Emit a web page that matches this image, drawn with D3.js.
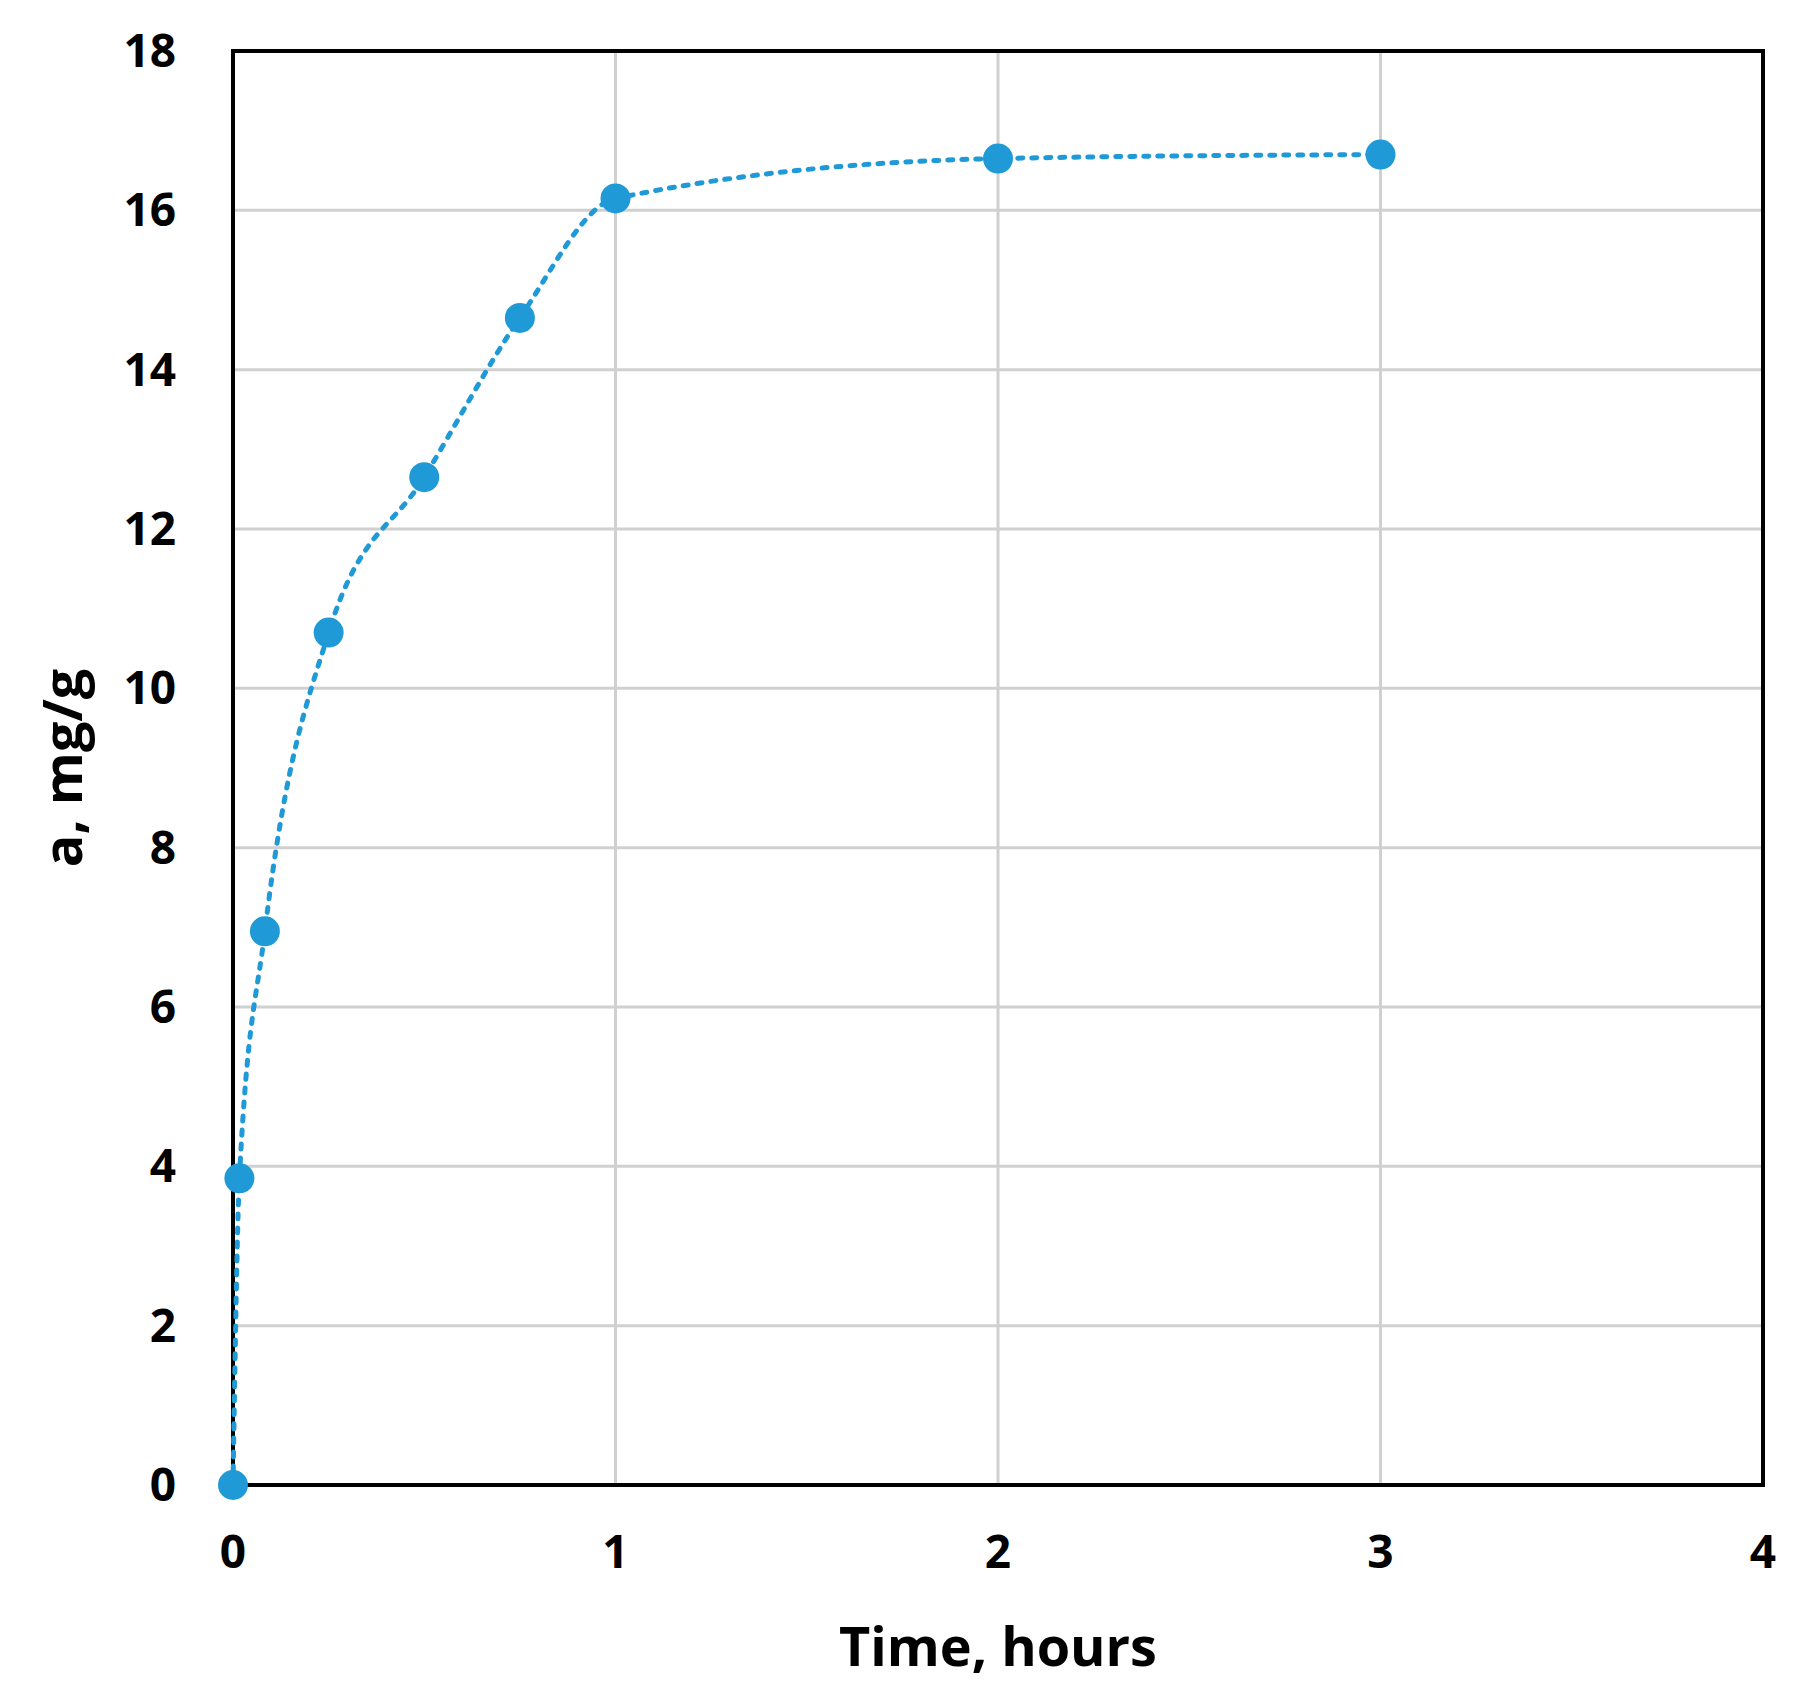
<!DOCTYPE html><html><head><meta charset="utf-8"><script src="https://cdn.jsdelivr.net/npm/d3@7"></script>
<style>body{margin:0;background:#fff}</style></head><body><svg id="c" width="1797" height="1691"></svg>
<script>
const times=[0,0.0167,0.0833,0.25,0.5,0.75,1,2,3];
const values=[0,3.85,6.95,10.7,12.65,14.65,16.15,16.65,16.7];
const xTicks=[0,1,2,3,4];
const yTicks=[0,2,4,6,8,10,12,14,16,18];
const svg=d3.select("#c");
const L=233,R=1763,T=51,B=1485;
const x=d3.scaleLinear().domain([0,4]).range([L,R]);
const y=d3.scaleLinear().domain([0,18]).range([B,T]);
const font="'Open Sans', 'DejaVu Sans', sans-serif";
const g=svg.append("g");
g.selectAll(".gx").data(xTicks).join("line").attr("x1",d=>x(d)).attr("x2",d=>x(d)).attr("y1",T).attr("y2",B).attr("stroke","#d0d0d0").attr("stroke-width",3);
g.selectAll(".gy").data(yTicks).join("line").attr("y1",d=>y(d)).attr("y2",d=>y(d)).attr("x1",L).attr("x2",R).attr("stroke","#d0d0d0").attr("stroke-width",3);
g.append("rect").attr("x",L).attr("y",T).attr("width",R-L).attr("height",B-T).attr("fill","none").attr("stroke","#000").attr("stroke-width",4);
svg.selectAll(".xt").data(xTicks).join("text").attr("x",d=>x(d)).attr("y",B+83).attr("text-anchor","middle").attr("font-family",font).attr("font-weight","bold").attr("font-size",46).text(d=>d);
svg.selectAll(".yt").data(yTicks).join("text").attr("x",L-57).attr("y",d=>y(d)+16).attr("text-anchor","end").attr("font-family",font).attr("font-weight","bold").attr("font-size",46).text(d=>d);
svg.append("text").attr("x",(L+R)/2).attr("y",1666).attr("text-anchor","middle").attr("font-family",font).attr("font-weight","bold").attr("font-size",54).text("Time, hours");
svg.append("text").attr("transform",`translate(82,${(T+B)/2}) rotate(-90)`).attr("text-anchor","middle").attr("font-family",font).attr("font-weight","bold").attr("font-size",54).text("a, mg/g");
const pts=times.map((t,i)=>[t,values[i]]);
svg.append("path").attr("d",d3.line().x(d=>x(d[0])).y(d=>y(d[1])).curve(d3.curveMonotoneX)(pts)).attr("fill","none").attr("stroke","#1f9ad6").attr("stroke-width",5).attr("stroke-dasharray","5,9").attr("stroke-linecap","round");
svg.selectAll(".pt").data(pts).join("circle").attr("cx",d=>x(d[0])).attr("cy",d=>y(d[1])).attr("r",15).attr("fill","#1f9ad6");
</script></body></html>
